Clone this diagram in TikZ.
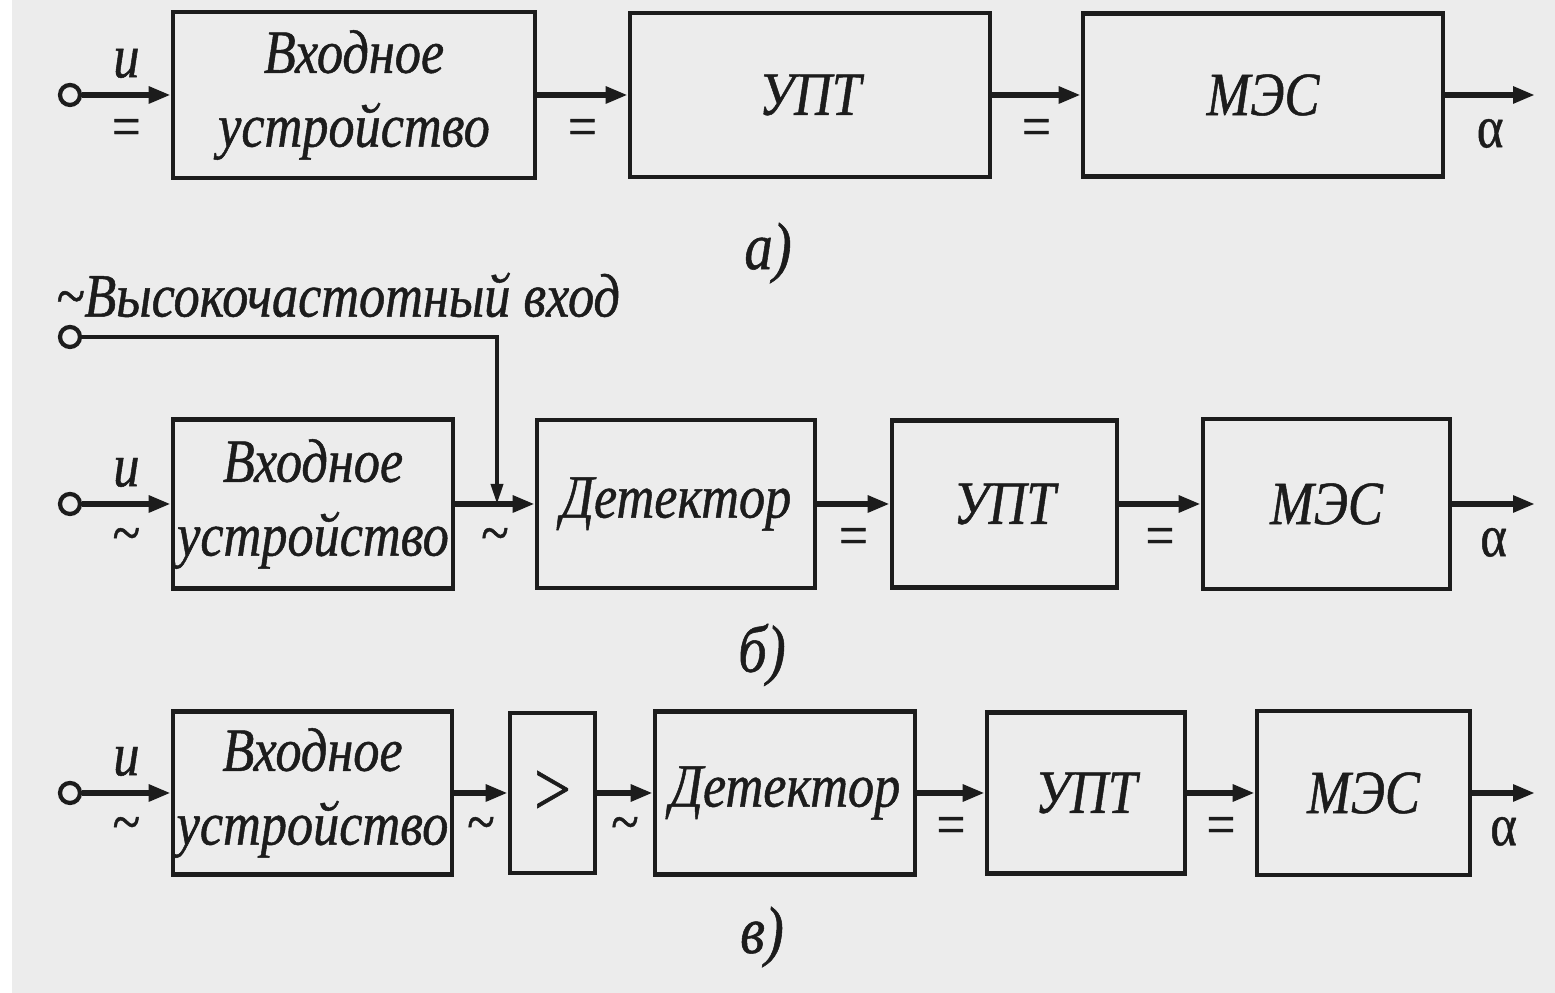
\documentclass[tikz,border=0pt]{standalone}
\usepackage{fontspec}
\setmainfont[FakeStretch=0.85,FakeBold=0.8]{Liberation Serif}
\usetikzlibrary{arrows.meta}
\definecolor{ink}{RGB}{28,28,28}
\definecolor{paper}{RGB}{236,236,236}

\begin{document}
\begin{tikzpicture}[
ink,
box/.style={draw=ink, line width=1.3pt, inner sep=0pt, align=center,
  font=\itshape\fontsize{17.5}{21}\selectfont},
arrow/.style={-{Triangle[length=0.22cm,width=0.16cm]},line width=1.7pt},
hfarrow/.style={-{Triangle[length=0.2cm,width=0.12cm]},line width=1.0pt},
term/.style={circle, draw=ink, fill=paper, line width=1.2pt, minimum size=0.2cm, inner sep=0pt},
sig/.style={font=\fontsize{17}{20}\selectfont, inner sep=1pt},
lbl/.style={font=\itshape\fontsize{17.5}{20}\selectfont, inner sep=1pt},
caption/.style={font=\itshape\fontsize{19}{22}\selectfont} ]

\fill[paper] (0.12,0) rectangle (15.55,9.93);
\useasboundingbox (0,0) rectangle (15.55,9.93);

% a)
\node[term](tA) at (0.70,8.98) {};
\node[box, minimum width=3.62cm, minimum height=1.66cm](A1) at (3.54,8.98) {Входное\\устройство};
\node[box, minimum width=3.60cm, minimum height=1.64cm](A2) at (8.10,8.98) {УПТ};
\node[box, minimum width=3.60cm, minimum height=1.63cm](A3) at (12.63,8.98) {МЭС};
\coordinate (oA) at (15.35,8.98);

\draw[arrow] (tA) -- node[above=3pt, lbl] {и} node[below=5pt, sig] {=} (A1);
\draw[arrow] (A1) -- node[below=5pt, sig] {=} (A2);
\draw[arrow] (A2) -- node[below=5pt, sig] {=} (A3);
\draw[arrow] (A3) -- node[below=5pt, sig] {α} (oA);

\node[caption](capA) at (7.68,7.40) {а)};

% б)
\node[lbl](hf) at (3.38,6.98) {\textasciitilde Высокочастотный вход};
\node[term](tHF) at (0.70,6.56) {};
\node[term](tB) at (0.70,4.89) {};
\node[box, minimum width=2.80cm, minimum height=1.69cm](B1) at (3.13,4.89) {Входное\\устройство};
\node[box, minimum width=2.78cm, minimum height=1.68cm](B2) at (6.76,4.89) {Детектор};
\node[box, minimum width=2.25cm, minimum height=1.67cm](B3) at (10.045,4.89) {УПТ};
\node[box, minimum width=2.47cm, minimum height=1.70cm](B4) at (13.265,4.89) {МЭС};
\coordinate (oB) at (15.35,4.89);
\coordinate (hfB) at (4.97,6.56);

\draw[arrow] (tB) -- node[above=3pt, lbl] {и} node[below=5pt, sig] {\textasciitilde} (B1);
\draw[arrow] (B1) -- node[below=5pt, sig] {\textasciitilde} (B2);
\draw[arrow] (B2) -- node[below=5pt, sig] {=} (B3);
\draw[arrow] (B3) -- node[below=5pt, sig] {=} (B4);
\draw[arrow] (B4) -- node[below=5pt, sig] {α} (oB);
\draw[hfarrow] (tHF) -- (hfB) -- (hfB |- B1.east);

\node[caption](capB) at (7.62,3.38) {б)};

% в)
\node[term](tC) at (0.70,2.00) {};
\node[box, minimum width=2.79cm, minimum height=1.63cm](C1) at (3.125,2.00) {Входное\\устройство};
\node[box, minimum width=0.85cm, minimum height=1.60cm, font=\fontsize{22}{24}\selectfont](C2) at (5.525,2.00) {>};
\node[box, minimum width=2.60cm, minimum height=1.63cm](C3) at (7.85,2.00) {Детектор};
\node[box, minimum width=1.98cm, minimum height=1.61cm](C4) at (10.86,2.00) {УПТ};
\node[box, minimum width=2.13cm, minimum height=1.64cm](C5) at (13.635,2.00) {МЭС};
\coordinate (oC) at (15.35,2.00);

\draw[arrow] (tC) -- node[above=3pt, lbl] {и} node[below=5pt, sig] {\textasciitilde} (C1);
\draw[arrow] (C1) -- node[below=5pt, sig] {\textasciitilde} (C2);
\draw[arrow] (C2) -- node[below=5pt, sig] {\textasciitilde} (C3);
\draw[arrow] (C3) -- node[below=5pt, sig] {=} (C4);
\draw[arrow] (C4) -- node[below=5pt, sig] {=} (C5);
\draw[arrow] (C5) -- node[below=5pt, sig] {α} (oC);

\node[caption](capC) at (7.62,0.56) {в)};

\end{tikzpicture}
\end{document}
